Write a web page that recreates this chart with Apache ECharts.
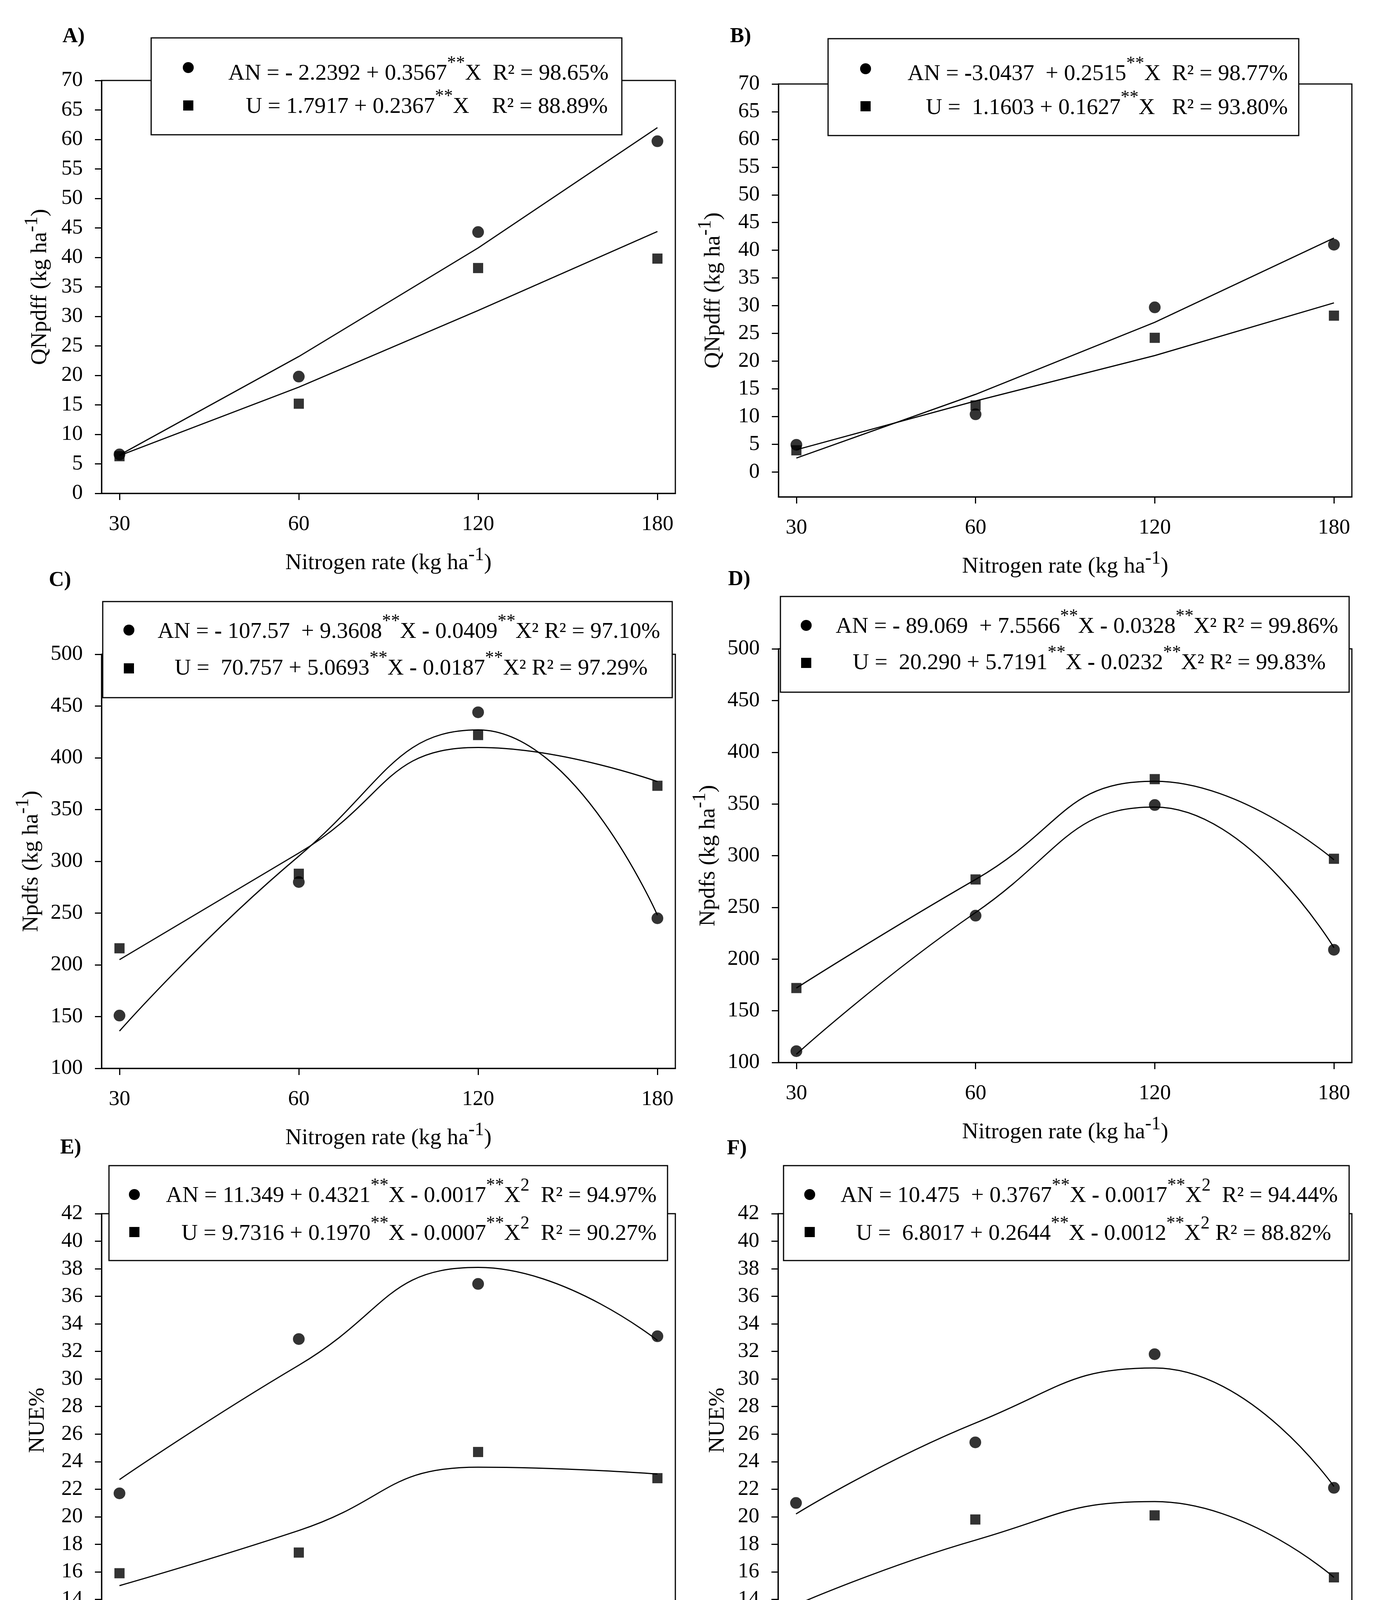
<!DOCTYPE html>
<html>
<head>
<meta charset="utf-8">
<title>Nitrogen rate panels</title>
<script src="https://cdn.jsdelivr.net/npm/echarts@6/dist/echarts.min.js"></script>
<style>
  html, body { margin: 0; background: #fff; }
  #main { width: 3574px; height: 4444px; }
</style>
</head>
<body>
<div id="main"></div>
<script>
// nitrogen rates on the x axis (equally spaced)
var rates = ['30', '60', '120', '180'];

// A) QNpdff - first site
var anObsA = [6.6, 19.8, 44.3, 59.7];
var anFitA = [6.5, 23.2, 41.6, 62.0];
var uObsA = [6.3, 15.2, 38.2, 39.8];
var uFitA = [6.4, 18.0, 31.0, 44.4];

// B) QNpdff - second site
var anObsB = [4.9, 10.4, 29.7, 41.0];
var anFitB = [2.5, 14.0, 27.0, 42.2];
var uObsB = [3.9, 12.0, 24.2, 28.2];
var uFitB = [4.0, 12.8, 21.0, 30.5];

// C) Npdfs - first site
var anObsC = [151, 280, 444, 245];
var anFitC = [136, 305, 427, 248];
var uObsC = [216, 288, 422, 373];
var uFitC = [205, 308, 410, 377];

// D) Npdfs - second site
var anObsD = [111, 242, 349, 209];
var anFitD = [108, 245, 347, 211];
var uObsD = [172, 277, 374, 297];
var uFitD = [172, 277, 372, 296];

// E) NUE% - first site
var anObsE = [21.7, 32.9, 36.9, 33.1];
var anFitE = [22.7, 31.0, 38.1, 32.8];
var uObsE = [15.9, 17.4, 24.7, 22.8];
var uFitE = [15.0, 19.0, 23.6, 23.1];

// F) NUE% - second site
var anObsF = [21.0, 25.4, 31.8, 22.1];
var anFitF = [20.2, 26.8, 30.8, 22.2];
var uObsF = [12.8, 19.8, 20.1, 15.6];
var uFitF = [13.6, 18.3, 21.1, 15.6];

// y tick labels of panel B (axis runs a bit below 0)
var ticksB = [0, 5, 10, 15, 20, 25, 30, 35, 40, 45, 50, 55, 60, 65, 70];

// regression equations shown in each box
var eqAN = [
  'AN = {b|-} 2.2392 + 0.3567{s|**}X  R² = 98.65%',
  'AN = {b|-}3.0437  + 0.2515{s|**}X  R² = 98.77%',
  'AN = {b|-} 107.57  + 9.3608{s|**}X {b|-} 0.0409{s|**}X² R² = 97.10%',
  'AN = {b|-} 89.069  + 7.5566{s|**}X {b|-} 0.0328{s|**}X² R² = 99.86%',
  'AN = 11.349 + 0.4321{s|**}X {b|-} 0.0017{s|**}X{s|2}  R² = 94.97%',
  'AN = 10.475  + 0.3767{s|**}X {b|-} 0.0017{s|**}X{s|2}  R² = 94.44%'
];
var eqU = [
  'U = 1.7917 + 0.2367{s|**}X    R² = 88.89%',
  'U =  1.1603 + 0.1627{s|**}X   R² = 93.80%',
  'U =  70.757 + 5.0693{s|**}X {b|-} 0.0187{s|**}X² R² = 97.29%',
  'U =  20.290 + 5.7191{s|**}X {b|-} 0.0232{s|**}X² R² = 99.83%',
  'U = 9.7316 + 0.1970{s|**}X {b|-} 0.0007{s|**}X{s|2}  R² = 90.27%',
  'U =  6.8017 + 0.2644{s|**}X {b|-} 0.0012{s|**}X{s|2} R² = 88.82%'
];
var panelTags = ['A)', 'B)', 'C)', 'D)', 'E)', 'F)'];
var yTitles = ['QNpdff (kg ha{s|-1})', 'QNpdff (kg ha{s|-1})', 'Npdfs (kg ha{s|-1})',
               'Npdfs (kg ha{s|-1})', 'NUE%', 'NUE%'];

var series = [
  [anObsA, anFitA, uObsA, uFitA],
  [anObsB, anFitB, uObsB, uFitB],
  [anObsC, anFitC, uObsC, uFitC],
  [anObsD, anFitD, uObsD, uFitD],
  [anObsE, anFitE, uObsE, uFitE],
  [anObsF, anFitF, uObsF, uFitF]
];

// layout in pixels
var layout = [
  {l: 260,  t: 206,  w: 1469, h: 1057, ygap: 112, box: [387, 97, 1205, 248],   mx: 482,  my: [173, 270],   tx: [1558, 1556], ty: [189, 274],   tag: [160, 94]},
  {l: 1993, t: 215,  w: 1468, h: 1057, ygap: 121, box: [2120, 99, 1205, 248],  mx: 2216, my: [176, 272],   tx: [3297, 3297], ty: [190, 277],   tag: [1869, 94]},
  {l: 260,  t: 1675, w: 1469, h: 1060, ygap: 124, box: [263, 1540, 1458, 246], mx: 330,  my: [1613, 1711], tx: [1690, 1658], ty: [1618, 1712], tag: [125, 1486]},
  {l: 1993, t: 1661, w: 1468, h: 1059, ygap: 121, box: [1998, 1527, 1456, 245],mx: 2064, my: [1601, 1697], tx: [3426, 3394], ty: [1605, 1698], tag: [1864, 1484]},
  {l: 260,  t: 3107, w: 1469, h: 1058, ygap: 118, box: [279, 2984, 1430, 243], mx: 344,  my: [3058, 3154], tx: [1681, 1681], ty: [3062, 3159], tag: [154, 2939]},
  {l: 1992, t: 3107, w: 1469, h: 1058, ygap: 109, box: [2006, 2984, 1448, 243],mx: 2073, my: [3058, 3154], tx: [3425, 3408], ty: [3062, 3159], tag: [1861, 2941]}
];
var yRanges = [
  {min: 0, max: 70, interval: 5},
  {min: -4.5, max: 70},
  {min: 100, max: 500, interval: 50},
  {min: 100, max: 500, interval: 50},
  {min: 12, max: 42, interval: 2},
  {min: 12, max: 42, interval: 2}
];

var FONT = 'Liberation Serif';
var nameStyle = {
  color: '#000', fontFamily: FONT, fontSize: 58, lineHeight: 90,
  rich: {s: {fontFamily: FONT, fontSize: 48, lineHeight: 48, verticalAlign: 'top'}}
};

function pairs(arr) {
  return arr.map(function (v, i) { return [i, v]; });
}

var grids = [], xAxes = [], yAxes = [], allSeries = [], graphics = [];

layout.forEach(function (p, k) {
  grids.push({left: p.l, top: p.t, width: p.w, height: p.h, show: true,
    borderColor: '#000', borderWidth: 3, backgroundColor: 'transparent'});

  xAxes.push({
    type: 'value', gridIndex: k, min: -0.1, max: 3.1,
    splitLine: {show: false},
    axisLine: {show: true, onZero: false, lineStyle: {color: '#000', width: 3}},
    axisTick: {show: true, length: 17, customValues: [0, 1, 2, 3], lineStyle: {color: '#000', width: 3}},
    axisLabel: {customValues: [0, 1, 2, 3], margin: 52, color: '#000', fontFamily: FONT, fontSize: 55,
      formatter: function (v) { return rates[Math.round(v)]; }},
    name: 'Nitrogen rate (kg ha{s|-1})', nameLocation: 'middle', nameGap: 134,
    nameTextStyle: nameStyle
  });

  var yr = yRanges[k];
  var ya = {
    type: 'value', gridIndex: k, min: yr.min, max: yr.max,
    splitLine: {show: false},
    axisLine: {show: true, onZero: false, lineStyle: {color: '#000', width: 3}},
    axisTick: {show: true, length: 17, lineStyle: {color: '#000', width: 3}},
    axisLabel: {margin: 48, color: '#000', fontFamily: FONT, fontSize: 55},
    name: yTitles[k], nameLocation: 'middle', nameGap: p.ygap,
    nameTextStyle: nameStyle
  };
  if (yr.interval) {
    ya.interval = yr.interval;
  } else {
    ya.axisTick.customValues = ticksB;
    ya.axisLabel.customValues = ticksB;
  }
  yAxes.push(ya);

  var s = series[k];
  var smooth = k >= 2 ? 0.5 : false;
  allSeries.push(
    {type: 'line', name: 'AN fit', xAxisIndex: k, yAxisIndex: k, data: pairs(s[1]), smooth: smooth,
      showSymbol: false, lineStyle: {color: '#000', width: 3}, z: 2},
    {type: 'line', name: 'U fit', xAxisIndex: k, yAxisIndex: k, data: pairs(s[3]), smooth: smooth,
      showSymbol: false, lineStyle: {color: '#000', width: 3}, z: 2},
    {type: 'scatter', name: 'AN', xAxisIndex: k, yAxisIndex: k, data: pairs(s[0]), symbol: 'circle',
      symbolSize: 30, itemStyle: {color: '#000'}, z: 3},
    {type: 'scatter', name: 'U', xAxisIndex: k, yAxisIndex: k, data: pairs(s[2]), symbol: 'rect',
      symbolSize: 26, itemStyle: {color: '#000'}, z: 3}
  );

  // equation box
  graphics.push({type: 'rect', shape: {x: p.box[0], y: p.box[1], width: p.box[2], height: p.box[3]},
    style: {fill: '#fff', stroke: '#000', lineWidth: 3}, z: 10});
  graphics.push({type: 'circle', shape: {cx: p.mx, cy: p.my[0], r: 14}, style: {fill: '#000'}, z: 11});
  graphics.push({type: 'rect', shape: {x: p.mx - 13, y: p.my[1] - 13, width: 26, height: 26}, style: {fill: '#000'}, z: 11});
  [eqAN[k], eqU[k]].forEach(function (txt, j) {
    graphics.push({type: 'text', x: p.tx[j], y: p.ty[j], z: 11,
      style: {text: txt, fill: '#000', fontFamily: FONT, fontSize: 58, lineHeight: 98,
        align: 'right', verticalAlign: 'middle',
        rich: {
          s: {fontFamily: FONT, fontSize: 46, lineHeight: 46, verticalAlign: 'top'},
          b: {fontFamily: FONT, fontSize: 58, fontWeight: 'bold', lineHeight: 98}
        }}});
  });
  graphics.push({type: 'text', x: p.tag[0], y: p.tag[1], z: 11,
    style: {text: panelTags[k], fill: '#000', fontFamily: FONT, fontSize: 54, fontWeight: 'bold',
      align: 'left', verticalAlign: 'middle'}});
});

var chart = echarts.init(document.getElementById('main'));
chart.setOption({
  backgroundColor: '#fff',
  animation: false,
  grid: grids,
  xAxis: xAxes,
  yAxis: yAxes,
  series: allSeries,
  graphic: graphics
});
</script>
</body>
</html>
